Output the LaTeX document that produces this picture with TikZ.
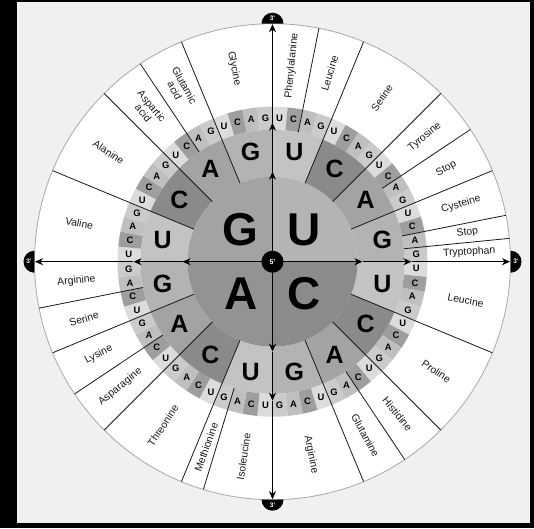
\documentclass[tikz,border=0pt]{standalone}
\usepackage{fontspec}
\setmainfont{Liberation Sans}
\usetikzlibrary{arrows.meta}
\definecolor{bgGrey}{HTML}{F0F0F0}
\definecolor{rimGrey}{HTML}{A8A8A8}
\definecolor{fU}{HTML}{B4B4B4}
\definecolor{fC}{HTML}{8B8B8B}
\definecolor{fA}{HTML}{939393}
\definecolor{fG}{HTML}{A3A3A3}
\definecolor{sU}{HTML}{C3C3C3}
\definecolor{sC}{HTML}{8A8A8A}
\definecolor{sA}{HTML}{A3A3A3}
\definecolor{sG}{HTML}{B3B3B3}
\definecolor{tU}{HTML}{DCDCDC}
\definecolor{tC}{HTML}{9E9E9E}
\definecolor{tA}{HTML}{BFBFBF}
\definecolor{tG}{HTML}{CBCBCB}
\definecolor{labText}{HTML}{1A1A1A}
\def\radA{85pt}
\def\radB{132pt}
\def\radC{155pt}
\def\radR{238pt}
\tikzset{
  bigletter/.style={font=\fontsize{46}{46}\selectfont\bfseries, inner sep=0pt},
  midletter/.style={font=\fontsize{25}{25}\selectfont\bfseries, inner sep=0pt},
  smallletter/.style={font=\fontsize{9.4}{10}\selectfont\bfseries, inner sep=0pt},
  aalabel/.style={font=\fontsize{10.4}{11}\selectfont, text=labText, align=center, inner sep=0pt},
  divider/.style={draw=black!90, line width=0.8pt},
  axisline/.style={draw=black, line width=0.9pt, -{Stealth[length=8pt,width=7pt,inset=2.5pt]}},
  endmark/.style={font=\fontsize{6.5}{7}\selectfont\bfseries, text=white, inner sep=0pt},
}
\begin{document}
\begin{tikzpicture}
\useasboundingbox (-272.5pt,-266.3pt) rectangle (261.5pt,261.7pt);
\fill[black] (-272.5pt,-266.3pt) rectangle (261.5pt,261.7pt);
\fill[bgGrey] (-255.5pt,-261.3pt) rectangle (257.5pt,259.7pt);
\coordinate (O) at (0,0);
% outer white disc
\fill[white] (O) circle[radius=\radR];
% third ring
\foreach \k in {0,...,63}{
  \pgfmathsetmacro\aa{90-5.625*\k}
  \pgfmathsetmacro\ab{90-5.625*(\k+1)}
  \pgfmathtruncatemacro\t{mod(\k,4)}
  \ifcase\t \def\col{tU}\or \def\col{tC}\or \def\col{tA}\or \def\col{tG}\fi
  \fill[\col] (\aa:\radB) arc[start angle=\aa,end angle=\ab,radius=\radB] -- (\ab:\radC) arc[start angle=\ab,end angle=\aa,radius=\radC] -- cycle;
}
% second ring
\foreach \j in {0,...,15}{
  \pgfmathsetmacro\aa{90-22.5*\j}
  \pgfmathsetmacro\ab{90-22.5*(\j+1)}
  \pgfmathtruncatemacro\t{mod(\j,4)}
  \ifcase\t \def\col{sU}\or \def\col{sC}\or \def\col{sA}\or \def\col{sG}\fi
  \fill[\col] (\aa:\radA) arc[start angle=\aa,end angle=\ab,radius=\radA] -- (\ab:\radB) arc[start angle=\ab,end angle=\aa,radius=\radB] -- cycle;
}
% inner circle
\foreach \q/\col in {0/fU,1/fC,2/fA,3/fG}{
  \pgfmathsetmacro\aa{90-90*\q}
  \pgfmathsetmacro\ab{90-90*(\q+1)}
  \fill[\col] (O) -- (\aa:\radA) arc[start angle=\aa,end angle=\ab,radius=\radA] -- cycle;
}
\draw[rimGrey, line width=0.8pt] (O) circle[radius=\radR];
% dividers
\foreach \b in {2,4,8,10,12,14,15,20,24,26,28,35,36,40,42,44,46,52,56,58,60}{
  \pgfmathsetmacro\ang{90-5.625*\b}
  \pgfmathtruncatemacro\m{mod(\b,4)}
  \ifnum\m=0 \def\ri{\radA}\else \def\ri{\radB}\fi
  \draw[divider] (\ang:\ri) -- (\ang:\radR);
}
% letters
\foreach \k in {0,...,63}{
  \pgfmathsetmacro\am{90-5.625*(\k+0.5)}
  \pgfmathtruncatemacro\t{mod(\k,4)}
  \ifcase\t \def\ltr{U}\or \def\ltr{C}\or \def\ltr{A}\or \def\ltr{G}\fi
  \node[smallletter] (t\k) at (\am:144pt) {\ltr};
}
\foreach \j in {0,...,15}{
  \pgfmathsetmacro\am{90-22.5*(\j+0.5)}
  \pgfmathtruncatemacro\t{mod(\j,4)}
  \ifcase\t \def\ltr{U}\or \def\ltr{C}\or \def\ltr{A}\or \def\ltr{G}\fi
  \node[midletter] (s\j) at (\am:112pt) {\ltr};
}
\foreach \q/\ltr in {0/U,1/C,2/A,3/G}{
  \pgfmathsetmacro\am{45-90*\q}
  \node[bigletter] (f\q) at (\am:45pt) {\ltr};
}
% axes
\foreach \dir in {0,90,180,270}{
  \coordinate (pa\dir) at (\dir:90pt);
  \coordinate (pb\dir) at (\dir:139pt);
  \coordinate (pc\dir) at (\dir:237.5pt);
  \draw[axisline] (O) -- (pa\dir);
  \draw[axisline] (pa\dir) -- (pb\dir);
  \draw[axisline] (pb\dir) -- (pc\dir);
  \pgfmathsetmacro\angP{\dir+90}
  \pgfmathsetmacro\angM{\dir-90}
  \fill[black] (\dir:\radR) ++(\angP:11pt) arc[start angle=\angP,end angle=\angM,radius=11pt] -- cycle;
  \node[endmark] (m\dir) at (\dir:243.5pt) {3'};
}
\node[circle, fill=black, minimum size=22pt, inner sep=0pt, text=white, font=\fontsize{7}{7}\selectfont\bfseries] (c5) at (O) {5'};
% amino acid labels
\foreach \st/\cnt/\aaname in {0/2/Phenylalanine,2/2/Leucine,4/4/Serine,8/2/Tyrosine,10/2/Stop,12/2/Cysteine,14/1/Stop,15/1/Tryptophan,16/4/Leucine,20/4/Proline,24/2/Histidine,26/2/Glutamine,28/4/Arginine,32/3/Isoleucine,35/1/Methionine,36/4/Threonine,40/2/Asparagine,42/2/Lysine,44/2/Serine,46/2/Arginine,48/4/Valine,52/4/Alanine,56/2/{Aspartic\\acid},58/2/{Glutamic\\acid},60/4/Glycine}{
  \pgfmathsetmacro\tha{90-5.625*(\st+\cnt/2)}
  \ifdim\tha pt<-90pt
    \pgfmathsetmacro\rot{\tha+180}
  \else
    \pgfmathsetmacro\rot{\tha}
  \fi
  \node[aalabel, rotate=\rot] (lab\st) at (\tha:197pt) {\aaname};
}
\end{tikzpicture}
\end{document}
